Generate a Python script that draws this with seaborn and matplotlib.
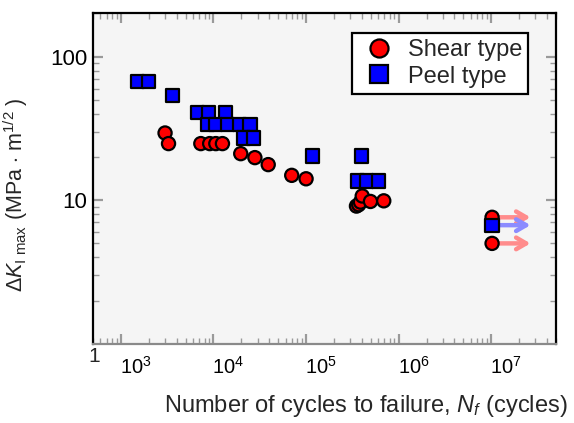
import matplotlib
matplotlib.use("Agg")
import matplotlib.pyplot as plt
import matplotlib.transforms as mtransforms
import numpy as np
import pandas as pd
import seaborn as sns
from matplotlib.lines import Line2D
from matplotlib.ticker import FixedLocator, LogLocator, NullFormatter

# Fatigue data: cycles to failure and maximum stress-intensity range
shear_cycles = [3.0e3, 3.27e3, 7.3e3, 9.1e3, 1.06e4, 1.25e4, 1.97e4, 2.8e4, 3.9e4,
                7.0e4, 1.0e5, 3.5e5, 3.7e5, 3.87e5, 4.04e5, 4.96e5, 6.9e5,
                1.02e7, 1.02e7]
shear_dk = [29.4, 24.8, 24.8, 24.8, 24.8, 24.8, 21.1, 19.8, 17.7,
            14.9, 14.1, 9.1, 9.3, 9.7, 10.7, 9.8, 9.9,
            7.6, 5.0]

peel_cycles = [1.52e3, 2.0e3, 3.6e3, 6.7e3, 8.9e3, 1.36e4, 8.6e3, 1.06e4, 1.43e4,
               1.92e4, 2.48e4, 2.13e4, 2.7e4, 1.17e5, 3.96e5, 3.56e5, 4.45e5,
               6.1e5, 1.02e7]
peel_dk = [67, 67, 54, 40.6, 40.6, 40.6, 33.7, 33.7, 33.7,
           33.7, 33.7, 27.1, 27.1, 20.3, 20.3, 13.6, 13.6,
           13.6, 6.7]

# Run-out specimens (did not fail): (cycles, dK, type)
runouts = [(1.02e7, 7.6, "Shear type"), (1.02e7, 6.7, "Peel type"), (1.02e7, 5.0, "Shear type")]

type_labels = ["Shear type", "Peel type"]
x_ticks = [1e3, 1e4, 1e5, 1e6, 1e7]
x_tick_labels = [r"$10^{3}$", r"$10^{4}$", r"$10^{5}$", r"$10^{6}$", r"$10^{7}$"]
y_ticks = [10, 100]
y_tick_labels = ["10", "100"]

sns.set_theme(style="ticks")
plt.rcParams["font.family"] = ["Liberation Sans", "DejaVu Sans"]
plt.rcParams["mathtext.fontset"] = "custom"
plt.rcParams["mathtext.rm"] = "Liberation Sans"
plt.rcParams["mathtext.it"] = "Liberation Sans:italic"
plt.rcParams["mathtext.bf"] = "Liberation Sans:bold"

df = pd.DataFrame({
    "cycles": shear_cycles + peel_cycles,
    "dk": shear_dk + peel_dk,
    "type": [type_labels[0]] * len(shear_cycles) + [type_labels[1]] * len(peel_cycles),
})

palette = {"Shear type": "#ff0000", "Peel type": "#0000ff"}
markers = {"Shear type": "o", "Peel type": "s"}
arrow_colors = {"Shear type": "#ff8c8c", "Peel type": "#8c8cff"}

fig = plt.figure(figsize=(5.74, 4.23), dpi=100)
ax = fig.add_axes([93 / 574, 1 - 343.7 / 423, 463 / 574, 330.2 / 423])
ax.set_facecolor("#f5f5f5")

ax.set_xscale("log")
ax.set_yscale("log")
ax.set_xlim(500, 5e7)
ax.set_ylim(1, 200)

# run-out arrows behind the markers
for cx, cy, kind in runouts:
    ax.annotate("", xy=(cx * 2.6, cy), xytext=(cx * 1.05, cy),
                arrowprops=dict(arrowstyle="->,head_length=0.6,head_width=0.35",
                                lw=3.2, color=arrow_colors[kind],
                                shrinkA=0, shrinkB=0),
                zorder=1)

sns.scatterplot(data=df, x="cycles", y="dk", hue="type", style="type",
                palette=palette, markers=markers, s=90, edgecolor="black",
                linewidth=1.6, legend=False, ax=ax, zorder=3)

# axes styling
for side in ["left", "top", "right"]:
    ax.spines[side].set_color("black")
    ax.spines[side].set_linewidth(1.6)
ax.spines["bottom"].set_color("#8a8a8a")
ax.spines["bottom"].set_linewidth(1.6)

ax.xaxis.set_major_locator(FixedLocator(x_ticks))
ax.set_xticklabels(x_tick_labels)
ax.xaxis.set_minor_locator(LogLocator(base=10, subs=np.arange(2, 10), numticks=20))
ax.xaxis.set_minor_formatter(NullFormatter())
ax.yaxis.set_major_locator(FixedLocator(y_ticks))
ax.set_yticklabels(y_tick_labels)
ax.yaxis.set_minor_locator(LogLocator(base=10, subs=np.arange(2, 10), numticks=20))
ax.yaxis.set_minor_formatter(NullFormatter())

ax.tick_params(which="both", direction="in", top=True, right=True,
               color="#9a9a9a", labelcolor="black")
ax.tick_params(which="major", length=7, width=1.6)
ax.tick_params(which="minor", length=4, width=1.0)
ax.tick_params(axis="x", which="major", labelsize=14.5, pad=9)
ax.tick_params(axis="y", which="major", labelsize=16, pad=4)

# x tick labels start at their tick
shift = mtransforms.ScaledTranslation(-1 / 100, 0, fig.dpi_scale_trans)
for lab in ax.get_xticklabels():
    lab.set_horizontalalignment("left")
    lab.set_transform(lab.get_transform() + shift)

ax.text(0, 0, "1", transform=ax.transAxes + mtransforms.ScaledTranslation(1 / 100, -3 / 100, fig.dpi_scale_trans),
        ha="center", va="top", fontsize=15)

ax.set_xlabel(r"Number of cycles to failure, $N_{\mathit{f}}$ (cycles)", fontsize=17)
ax.xaxis.set_label_coords(0.59, -0.15)
ax.set_ylabel(r"$\mathit{\Delta K}_{\mathrm{I\ max}}$ (MPa $\cdot$ m$^{1/2}$ )", fontsize=15.5)
ax.yaxis.set_label_coords(-0.135, 0.45)

handles = [Line2D([], [], linestyle="none", marker=markers[t], markersize=13,
                  markerfacecolor=palette[t], markeredgecolor="black",
                  markeredgewidth=1.6, label=t) for t in type_labels]
leg = ax.legend(handles=handles, loc="upper right", bbox_to_anchor=(0.94, 0.941),
                borderaxespad=0, fontsize=17, frameon=True, fancybox=False,
                framealpha=1, edgecolor="black", handletextpad=0.35,
                labelspacing=0.2, borderpad=0.25, handlelength=1.75)
leg.get_frame().set_linewidth(1.6)

fig.savefig("out.png", dpi=100, facecolor="white")
